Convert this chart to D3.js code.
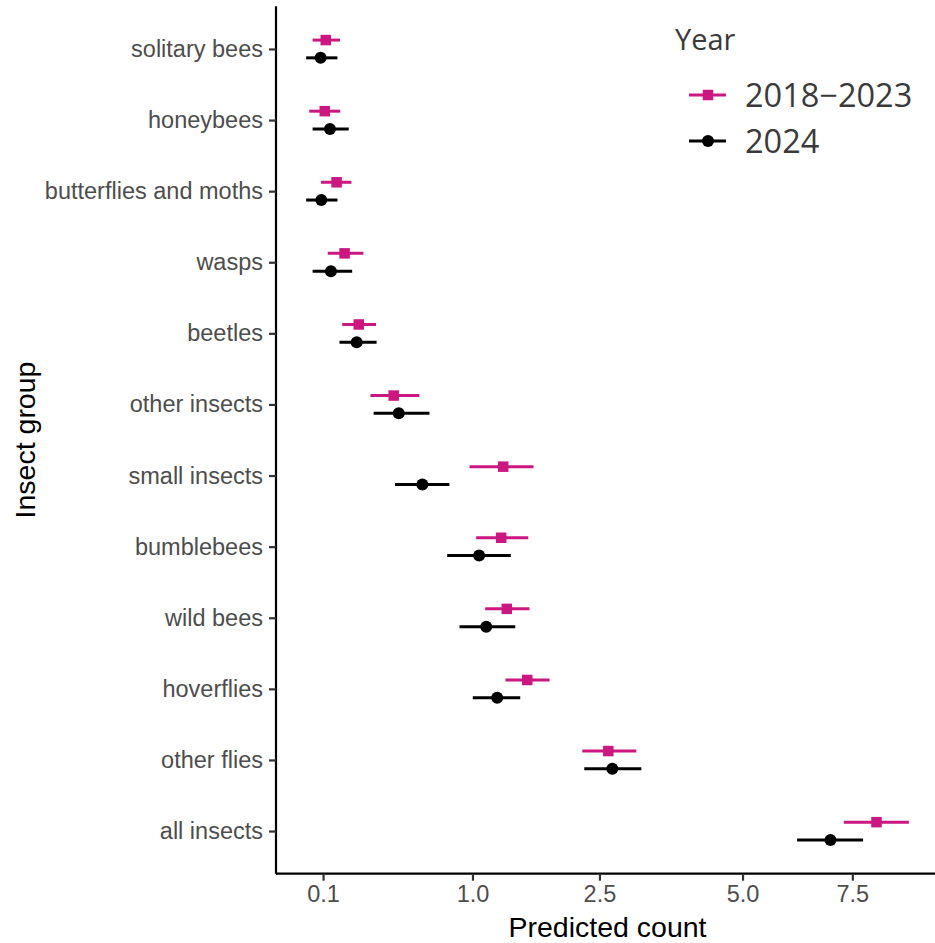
<!DOCTYPE html>
<html>
<head>
<meta charset="utf-8">
<script src="https://cdn.jsdelivr.net/npm/d3@7"></script>
<style>
  html, body { margin: 0; padding: 0; background: #fff; }
  svg { display: block; }
</style>
</head>
<body>
<svg id="chart" width="935" height="943"></svg>
<script>
// Insect groups, top to bottom
const categories = ["solitary bees", "honeybees", "butterflies and moths", "wasps", "beetles",
  "other insects", "small insects", "bumblebees", "wild bees", "hoverflies", "other flies", "all insects"];

// Predicted counts with confidence limits, 2018–2023
const prevEst = [0.108, 0.105, 0.143, 0.172, 0.230, 0.409, 1.301, 1.280, 1.339, 1.564, 2.630, 8.118];
const prevLo  = [0.072, 0.064, 0.094, 0.114, 0.163, 0.284, 0.973, 1.034, 1.120, 1.325, 2.258, 7.287];
const prevHi  = [0.155, 0.156, 0.199, 0.251, 0.312, 0.573, 1.637, 1.576, 1.590, 1.830, 3.062, 8.984];

// Predicted counts with confidence limits, 2024
const curEst = [0.093, 0.121, 0.095, 0.124, 0.221, 0.439, 0.594, 1.062, 1.130, 1.239, 2.690, 6.962];
const curLo  = [0.057, 0.072, 0.057, 0.072, 0.153, 0.300, 0.417, 0.782, 0.885, 1.003, 2.285, 6.178];
const curHi  = [0.146, 0.188, 0.146, 0.202, 0.315, 0.645, 0.800, 1.382, 1.430, 1.485, 3.143, 7.773];

const seriesNames = ["2018−2023", "2024"];
const seriesColors = ["#CB1780", "#000000"];

const xTickValues = [0.1, 1.0, 2.5, 5.0, 7.5];
const xTickLabels = ["0.1", "1.0", "2.5", "5.0", "7.5"];

const svg = d3.select("#chart");
const panel = { left: 276, right: 939, top: 6.3, bottom: 873.7 };

// square-root x scale, padded by 5% in transformed space
const allLo = d3.min(prevLo.concat(curLo));
const allHi = d3.max(prevHi.concat(curHi));
const sLo = Math.sqrt(allLo), sHi = Math.sqrt(allHi);
const pad = 0.05 * (sHi - sLo);
const x = d3.scaleSqrt()
  .domain([Math.pow(sLo - pad, 2), Math.pow(sHi + pad, 2)])
  .range([panel.left, panel.right]);

const y = d3.scalePoint()
  .domain(categories)
  .range([panel.top, panel.bottom])
  .padding(0.6);
const dodge = y.step() * 0.125;

const series = [
  { name: seriesNames[0], color: seriesColors[0], est: prevEst, lo: prevLo, hi: prevHi, off: -dodge, shape: "square" },
  { name: seriesNames[1], color: seriesColors[1], est: curEst, lo: curLo, hi: curHi, off: dodge, shape: "circle" }
];

// axes
const xAxis = d3.axisBottom(x)
  .tickValues(xTickValues)
  .tickFormat((d, i) => xTickLabels[i])
  .tickSizeOuter(0)
  .tickSizeInner(7)
  .tickPadding(5);
const gx = svg.append("g").attr("transform", `translate(0,${panel.bottom})`).call(xAxis);

const yAxis = d3.axisLeft(y).tickSizeOuter(0).tickSizeInner(7).tickPadding(6);
const gy = svg.append("g").attr("transform", `translate(${panel.left},0)`).call(yAxis);

[gx, gy].forEach(g => {
  g.select(".domain").attr("stroke", "#000").attr("stroke-width", 2.2);
  g.selectAll(".tick line").attr("stroke", "#333").attr("stroke-width", 2.2);
  g.selectAll(".tick text")
    .attr("fill", "#4D4D4D")
    .style("font-family", "'Liberation Sans', Arial, sans-serif")
    .style("font-size", "23.5px");
});
gy.select(".domain").attr("d", `M0,${panel.top}V${panel.bottom}`);
gx.select(".domain").attr("d", `M${panel.left},0H${panel.right}`);

// point ranges
series.forEach(s => {
  const g = svg.append("g");
  g.selectAll("line")
    .data(categories)
    .join("line")
    .attr("x1", (d, i) => x(s.lo[i]))
    .attr("x2", (d, i) => x(s.hi[i]))
    .attr("y1", d => y(d) + s.off)
    .attr("y2", d => y(d) + s.off)
    .attr("stroke", s.color)
    .attr("stroke-width", 3);
  if (s.shape === "square") {
    const side = 10.5;
    g.selectAll("rect")
      .data(categories)
      .join("rect")
      .attr("x", (d, i) => x(s.est[i]) - side / 2)
      .attr("y", d => y(d) + s.off - side / 2)
      .attr("width", side)
      .attr("height", side)
      .attr("fill", s.color);
  } else {
    g.selectAll("circle")
      .data(categories)
      .join("circle")
      .attr("cx", (d, i) => x(s.est[i]))
      .attr("cy", d => y(d) + s.off)
      .attr("r", 6)
      .attr("fill", s.color);
  }
});

// axis titles
svg.append("text")
  .attr("x", (panel.left + panel.right) / 2)
  .attr("y", 937)
  .attr("text-anchor", "middle")
  .style("font-family", "'Liberation Sans', Arial, sans-serif")
  .style("font-size", "28.5px")
  .attr("fill", "#000")
  .text("Predicted count");

svg.append("text")
  .attr("transform", `translate(35,${(panel.top + panel.bottom) / 2}) rotate(-90)`)
  .attr("text-anchor", "middle")
  .style("font-family", "'Liberation Sans', Arial, sans-serif")
  .style("font-size", "28.5px")
  .attr("fill", "#000")
  .text("Insect group");

// legend
const legend = svg.append("g").style("font-family", "'Open Sans', 'Noto Sans', sans-serif");
legend.append("text")
  .attr("x", 675)
  .attr("y", 50)
  .attr("fill", "#3A3A3A")
  .style("font-size", "29px")
  .text("Year");

const legendRows = [95, 141];
series.forEach((s, i) => {
  const cy = legendRows[i];
  const row = legend.append("g");
  row.append("line")
    .attr("x1", 689).attr("x2", 726)
    .attr("y1", cy).attr("y2", cy)
    .attr("stroke", s.color).attr("stroke-width", 3);
  if (s.shape === "square") {
    row.append("rect").attr("x", 708 - 5.25).attr("y", cy - 5.25)
      .attr("width", 10.5).attr("height", 10.5).attr("fill", s.color);
  } else {
    row.append("circle").attr("cx", 708).attr("cy", cy).attr("r", 6).attr("fill", s.color);
  }
  row.append("text")
    .attr("x", 745)
    .attr("y", cy)
    .attr("dy", "0.36em")
    .attr("fill", "#3A3A3A")
    .style("font-size", "32.5px")
    .text(s.name);
});
</script>
</body>
</html>
